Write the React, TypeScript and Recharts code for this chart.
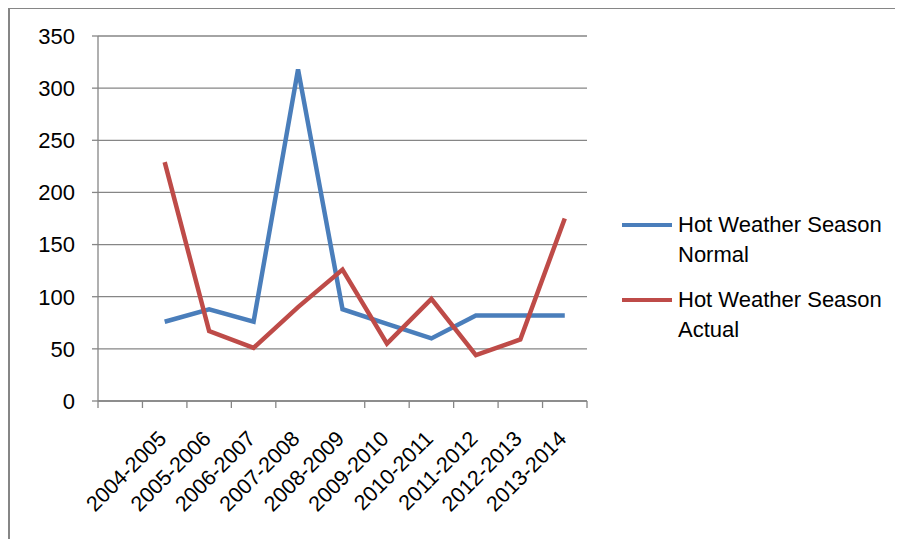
import { LineChart, Line, XAxis, YAxis, CartesianGrid } from "recharts";

const seasons = [
  "2004-2005", "2005-2006", "2006-2007", "2007-2008", "2008-2009",
  "2009-2010", "2010-2011", "2011-2012", "2012-2013", "2013-2014",
];
const normal = [76, 88, 76, 318, 88, 74, 60, 82, 82, 82];
const actual = [229, 67, 51, 90, 126, 55, 98, 44, 59, 175];
const yTicks = [0, 50, 100, 150, 200, 250, 300, 350];

const series = [
  { key: "normal", name: "Hot Weather Season Normal", color: "#4a7ebb" },
  { key: "actual", name: "Hot Weather Season Actual", color: "#be4b48" },
];

// Excel left an empty band before the first season, so seasons sit in bands 1..10 of 0..11
const data = seasons.map((s, i) => ({ season: s, pos: i + 1.5, normal: normal[i], actual: actual[i] }));
const bandTicks = [0, 1, 2, 3, 4, 6, 7, 8, 9, 10, 11];
const labelTicks = data.map((d) => d.pos);

const FONT = "'Liberation Sans', Arial, sans-serif";
const GRAY = "#868686";

function SeasonTick({ x, y, payload }: any) {
  const idx = labelTicks.indexOf(payload.value);
  return (
    <g transform={`translate(${x + 3},${y + 31}) rotate(-45)`}>
      <text x={0} y={0} textAnchor="end" fontSize={21.5} fill="#000" fontFamily={FONT}>
        {seasons[idx] ?? ""}
      </text>
    </g>
  );
}

export default function App() {
  return (
    <div style={{
      marginTop: -1,
      width: 895,
      height: 532,
      boxSizing: "border-box",
      borderLeft: `2px solid ${GRAY}`,
      borderTop: `2px solid ${GRAY}`,
      position: "relative",
      fontFamily: FONT,
    }}>
      <LineChart
        width={892}
        height={528}
        data={data}
        margin={{ top: 27, right: 315, left: 0, bottom: 0 }}
        style={{ fontFamily: FONT }}
      >
        <CartesianGrid horizontal vertical={false} stroke={GRAY} strokeWidth={1.3} />
        <XAxis
          xAxisId="band"
          type="number"
          dataKey="pos"
          domain={[0, 11]}
          ticks={bandTicks}
          tickFormatter={() => ""}
          tickSize={7}
          height={8}
          stroke={GRAY}
          strokeWidth={1.3}
        />
        <XAxis
          xAxisId="label"
          type="number"
          dataKey="pos"
          domain={[0, 11]}
          ticks={labelTicks}
          axisLine={false}
          tickLine={false}
          tickSize={0}
          tickMargin={0}
          tick={<SeasonTick />}
          height={128}
        />
        <YAxis
          type="number"
          domain={[0, 350]}
          ticks={yTicks}
          width={88}
          tickSize={6}
          tickMargin={17}
          stroke={GRAY}
          strokeWidth={1.3}
          tick={{ fontSize: 22, fill: "#000" }}
        />
        {series.map((s) => (
          <Line
            key={s.key}
            xAxisId="band"
            type="linear"
            dataKey={s.key}
            name={s.name}
            stroke={s.color}
            strokeWidth={4.5}
            dot={false}
            isAnimationActive={false}
          />
        ))}
      </LineChart>

      {/* legend, Excel-style: swatch then wrapped name */}
      {series.map((s, i) => (
        <div key={s.key} style={{
          position: "absolute",
          left: 612,
          top: 201 + i * 75,
          display: "flex",
          alignItems: "flex-start",
          fontSize: 22,
          lineHeight: "30px",
          color: "#000",
        }}>
          <div style={{ width: 50, height: 4, background: s.color, marginTop: 13, marginRight: 6 }} />
          <div style={{ width: 220 }}>{s.name}</div>
        </div>
      ))}
    </div>
  );
}
